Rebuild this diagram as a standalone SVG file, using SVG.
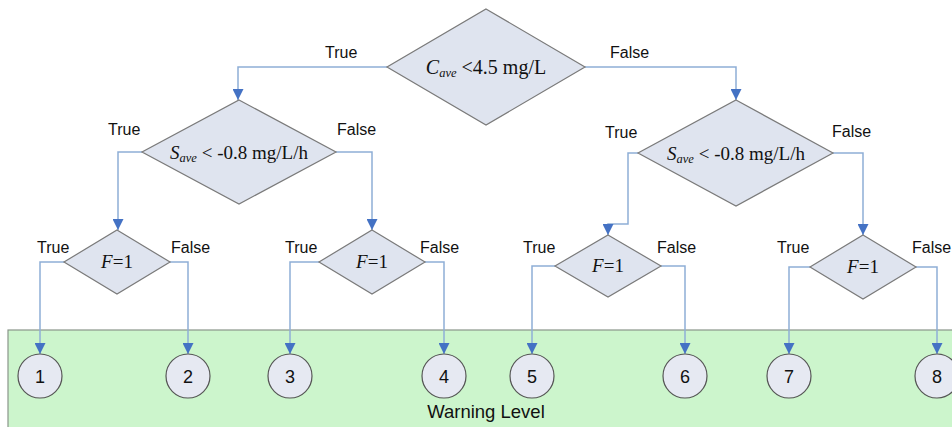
<svg xmlns="http://www.w3.org/2000/svg" width="952" height="427" viewBox="0 0 952 427">
<style>
.dia{fill:#dfe4ef;stroke:#7a7a7a;stroke-width:1.2}
.cir{fill:#e6e9f2;stroke:#555;stroke-width:1.2}
.con{fill:none;stroke:#8eaed6;stroke-width:1.5}
.lbl{font-family:"Liberation Sans",Arial,sans-serif;font-size:16px;fill:#111}
.num{font-family:"Liberation Sans",Arial,sans-serif;font-size:18px;fill:#111;text-anchor:middle}
.math{font-family:"Liberation Serif","Times New Roman",serif;font-size:19px;fill:#111;text-anchor:middle}
.it{font-style:italic}
.sub{font-style:italic;font-size:12.5px}
</style>
<defs>
<marker id="arr" viewBox="0 0 10 10" refX="10" refY="5" markerWidth="12" markerHeight="11" markerUnits="userSpaceOnUse" orient="auto">
<path d="M0,0 L10,5 L0,10 z" fill="#4472c4"/>
</marker>
</defs>
<rect id="warning-area" x="8" y="330" width="960" height="110" fill="#ccf5cc" stroke="#8a968a" stroke-width="1.2"/>
<g id="connectors" class="con" marker-end="url(#arr)">
<path class="con" d="M387,67 H238 V100" marker-end="url(#arr)"/>
<path class="con" d="M585,67 H736 V100" marker-end="url(#arr)"/>
<path class="con" d="M142,152 H118 V230" marker-end="url(#arr)"/>
<path class="con" d="M336,152 H372 V230" marker-end="url(#arr)"/>
<path class="con" d="M638,153 H628 V224 H608 V235" marker-end="url(#arr)"/>
<path class="con" d="M833,153 H863 V235" marker-end="url(#arr)"/>
<path class="con" d="M64,262 H40 V354" marker-end="url(#arr)"/>
<path class="con" d="M170,262 H188 V354" marker-end="url(#arr)"/>
<path class="con" d="M319,262 H290 V354" marker-end="url(#arr)"/>
<path class="con" d="M425,262 H444 V354" marker-end="url(#arr)"/>
<path class="con" d="M555,266 H532 V354" marker-end="url(#arr)"/>
<path class="con" d="M661,266 H685 V354" marker-end="url(#arr)"/>
<path class="con" d="M810,267 H789 V354" marker-end="url(#arr)"/>
<path class="con" d="M916,267 H937 V354" marker-end="url(#arr)"/>
</g>
<g id="labels">
<text class="lbl" x="325" y="58">True</text>
<text class="lbl" x="610" y="58">False</text>
<text class="lbl" x="108" y="135">True</text>
<text class="lbl" x="337" y="135">False</text>
<text class="lbl" x="605" y="138">True</text>
<text class="lbl" x="832" y="137">False</text>
<text class="lbl" x="37" y="253">True</text>
<text class="lbl" x="171" y="253">False</text>
<text class="lbl" x="285" y="253">True</text>
<text class="lbl" x="420" y="253">False</text>
<text class="lbl" x="523" y="253">True</text>
<text class="lbl" x="657" y="253">False</text>
<text class="lbl" x="777" y="253">True</text>
<text class="lbl" x="912" y="253">False</text>
</g>
<g id="d-cave">
<polygon class="dia" points="486,9 585,67 486,125 387,67"/>
<text class="math" x="486" y="74" style="font-size:20px"><tspan class="it">C</tspan><tspan class="sub" dy="3">ave</tspan><tspan dy="-3"> &lt;4.5 mg/L</tspan></text>
</g>
<g id="d-save-left">
<polygon class="dia" points="239,100 336,152 239,204 142,152"/>
<text class="math" x="239" y="159"><tspan class="it">S</tspan><tspan class="sub" dy="3">ave</tspan><tspan dy="-3"> &lt; -0.8 mg/L/h</tspan></text>
</g>
<g id="d-save-right">
<polygon class="dia" points="736,100 833,153 736,206 638,153"/>
<text class="math" x="736" y="160"><tspan class="it">S</tspan><tspan class="sub" dy="3">ave</tspan><tspan dy="-3"> &lt; -0.8 mg/L/h</tspan></text>
</g>
<g id="d-f1">
<polygon class="dia" points="117,230 170,262 117,294 64,262"/>
<text class="math" x="117" y="268"><tspan class="it">F</tspan>=1</text>
</g>
<g id="d-f2">
<polygon class="dia" points="372,230 425,262 372,294 319,262"/>
<text class="math" x="372" y="268"><tspan class="it">F</tspan>=1</text>
</g>
<g id="d-f3">
<polygon class="dia" points="608,235 661,266 608,297 555,266"/>
<text class="math" x="608" y="272"><tspan class="it">F</tspan>=1</text>
</g>
<g id="d-f4">
<polygon class="dia" points="863,235 916,267 863,299 810,267"/>
<text class="math" x="863" y="273"><tspan class="it">F</tspan>=1</text>
</g>
<g id="c1"><circle class="cir" cx="40" cy="376" r="22"/><text class="num" x="40" y="382.5">1</text></g>
<g id="c2"><circle class="cir" cx="188" cy="376" r="22"/><text class="num" x="188" y="382.5">2</text></g>
<g id="c3"><circle class="cir" cx="290" cy="376" r="22"/><text class="num" x="290" y="382.5">3</text></g>
<g id="c4"><circle class="cir" cx="444" cy="376" r="22"/><text class="num" x="444" y="382.5">4</text></g>
<g id="c5"><circle class="cir" cx="532" cy="376" r="22"/><text class="num" x="532" y="382.5">5</text></g>
<g id="c6"><circle class="cir" cx="685" cy="376" r="22"/><text class="num" x="685" y="382.5">6</text></g>
<g id="c7"><circle class="cir" cx="789" cy="376" r="22"/><text class="num" x="789" y="382.5">7</text></g>
<g id="c8"><circle class="cir" cx="937" cy="376" r="22"/><text class="num" x="937" y="382.5">8</text></g>
<text id="warning-label" x="486" y="418" style="font-family:'Liberation Sans',Arial,sans-serif;font-size:18.5px;fill:#111;text-anchor:middle">Warning Level</text>
</svg>
